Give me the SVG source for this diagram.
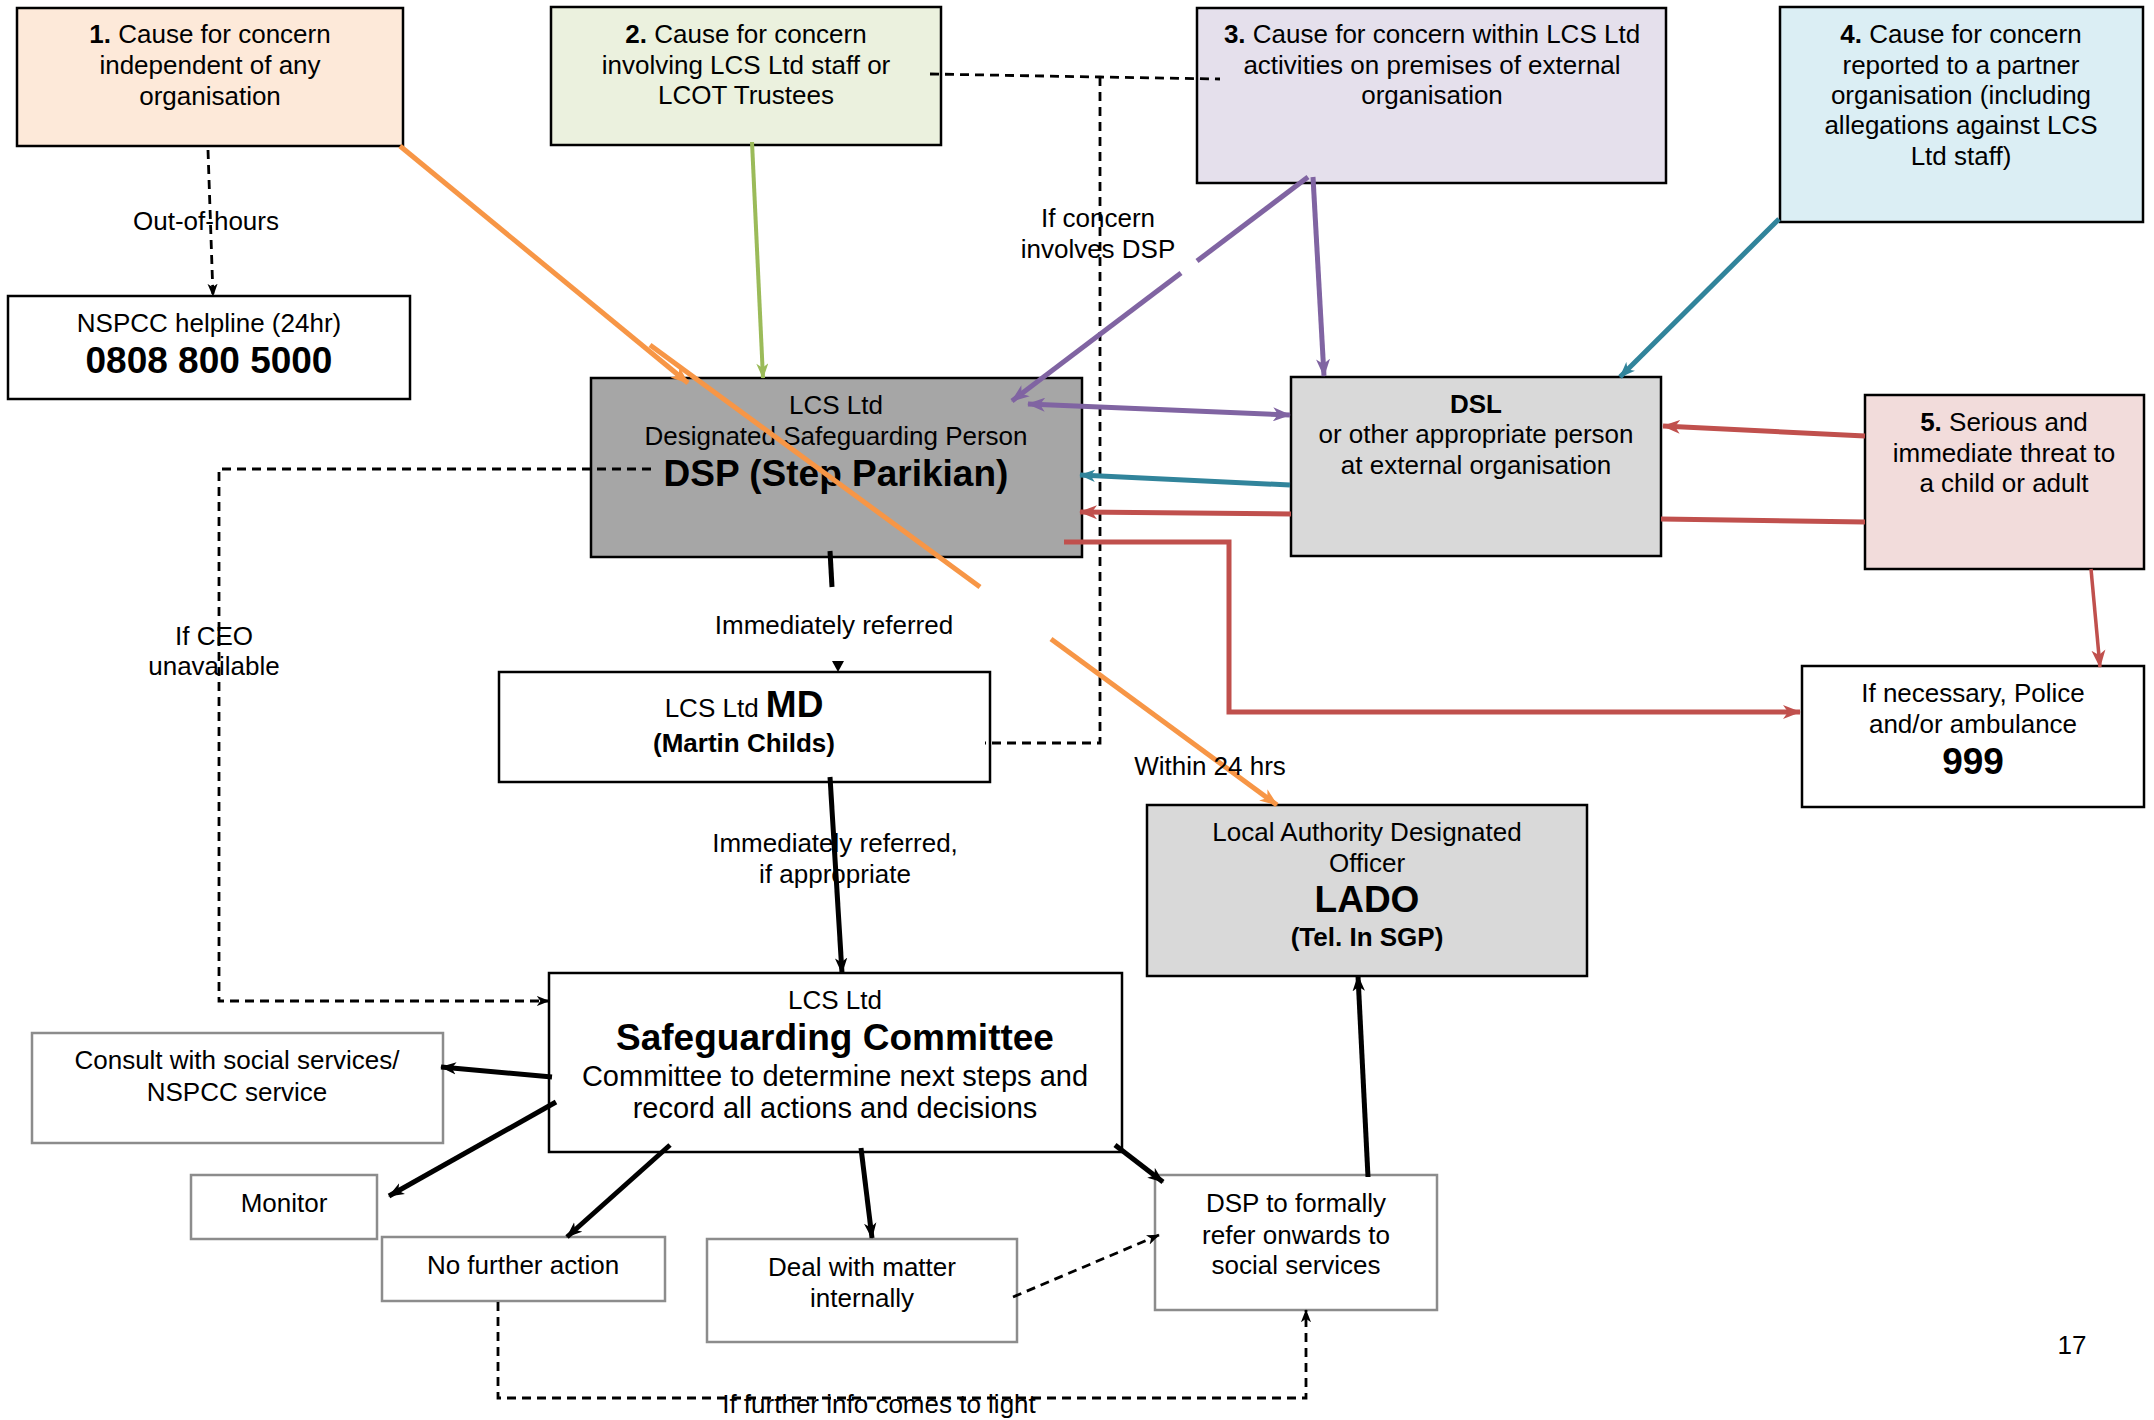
<svg xmlns="http://www.w3.org/2000/svg" width="2154" height="1420" viewBox="0 0 2154 1420">
<style>
text{font-family:"Liberation Sans",Arial,sans-serif;font-size:26px;fill:#000;text-anchor:middle}
.b{font-weight:bold}
.big{font-size:37px;font-weight:bold}
.box{stroke:#000;stroke-width:2.5}
.gbox{fill:#fff;stroke:#8c8c8c;stroke-width:2.5}
.dash{fill:none;stroke:#000;stroke-width:2.8;stroke-dasharray:9 6}
.blk{fill:none;stroke:#000;stroke-width:5}
.org{fill:none;stroke:#F79646;stroke-width:5}
.pur{fill:none;stroke:#8064A2;stroke-width:5}
.tea{fill:none;stroke:#31849B;stroke-width:5}
.red{fill:none;stroke:#C0504D;stroke-width:5}
.grn{fill:none;stroke:#9BBB59;stroke-width:4}
</style>
<defs>
<marker id="mo" viewBox="0 0 18 14" refX="17" refY="7" markerWidth="18" markerHeight="14" orient="auto-start-reverse" markerUnits="userSpaceOnUse"><path d="M0,0 L18,7 L0,14 L5,7 Z" fill="#F79646"/></marker>
<marker id="mp" viewBox="0 0 18 14" refX="17" refY="7" markerWidth="18" markerHeight="14" orient="auto-start-reverse" markerUnits="userSpaceOnUse"><path d="M0,0 L18,7 L0,14 L5,7 Z" fill="#8064A2"/></marker>
<marker id="mt" viewBox="0 0 18 14" refX="17" refY="7" markerWidth="16" markerHeight="13" orient="auto-start-reverse" markerUnits="userSpaceOnUse"><path d="M0,0 L18,7 L0,14 L5,7 Z" fill="#31849B"/></marker>
<marker id="mr" viewBox="0 0 18 14" refX="17" refY="7" markerWidth="18" markerHeight="15" orient="auto-start-reverse" markerUnits="userSpaceOnUse"><path d="M0,0 L18,7 L0,14 L5,7 Z" fill="#C0504D"/></marker>
<marker id="mg" viewBox="0 0 18 14" refX="17" refY="7" markerWidth="16" markerHeight="12" orient="auto" markerUnits="userSpaceOnUse"><path d="M0,0 L18,7 L0,14 L5,7 Z" fill="#9BBB59"/></marker>
<marker id="mk" viewBox="0 0 18 14" refX="17" refY="7" markerWidth="16" markerHeight="13" orient="auto" markerUnits="userSpaceOnUse"><path d="M0,0 L18,7 L0,14 L5,7 Z" fill="#000"/></marker>
<marker id="md" viewBox="0 0 18 14" refX="17" refY="7" markerWidth="13" markerHeight="11" orient="auto" markerUnits="userSpaceOnUse"><path d="M0,0 L18,7 L0,14 L5,7 Z" fill="#000"/></marker>
</defs>
<rect width="2154" height="1420" fill="#fff"/>

<g id="nodes">
<g id="n1"><rect class="box" x="17" y="8" width="386" height="138" fill="#FDE9D9"/>
<text x="210" y="43"><tspan class="b">1.</tspan> Cause for concern</text><text x="210" y="74">independent of any</text><text x="210" y="105">organisation</text></g>
<g id="n2"><rect class="box" x="551" y="7" width="390" height="138" fill="#EBF1DE"/>
<text x="746" y="43"><tspan class="b">2.</tspan> Cause for concern</text><text x="746" y="74">involving LCS Ltd staff or</text><text x="746" y="104">LCOT Trustees</text></g>
<g id="n3"><rect class="box" x="1197" y="8" width="469" height="175" fill="#E5E0EC"/>
<text x="1432" y="43"><tspan class="b">3.</tspan> Cause for concern within LCS Ltd</text><text x="1432" y="74">activities on premises of external</text><text x="1432" y="104">organisation</text></g>
<g id="n4"><rect class="box" x="1780" y="7" width="363" height="215" fill="#DBEEF4"/>
<text x="1961" y="43"><tspan class="b">4.</tspan> Cause for concern</text><text x="1961" y="74">reported to a partner</text><text x="1961" y="104">organisation (including</text><text x="1961" y="134">allegations against LCS</text><text x="1961" y="165">Ltd staff)</text></g>
<g id="nspcc"><rect class="box" x="8" y="296" width="402" height="103" fill="#fff"/>
<text x="209" y="332">NSPCC helpline (24hr)</text><text x="209" y="373" class="big">0808 800 5000</text></g>
<g id="dsp"><rect class="box" x="591" y="378" width="491" height="179" fill="#A6A6A6"/>
<text x="836" y="414">LCS Ltd</text><text x="836" y="445">Designated Safeguarding Person</text><text x="836" y="486" class="big">DSP (Step Parikian)</text></g>
<g id="dsl"><rect class="box" x="1291" y="377" width="370" height="179" fill="#D9D9D9"/>
<text x="1476" y="413" class="b">DSL</text><text x="1476" y="443">or other appropriate person</text><text x="1476" y="474">at external organisation</text></g>
<g id="n5"><rect class="box" x="1865" y="395" width="279" height="174" fill="#F2DCDB"/>
<text x="2004" y="431"><tspan class="b">5.</tspan> Serious and</text><text x="2004" y="462">immediate threat to</text><text x="2004" y="492">a child or adult</text></g>
<g id="police"><rect class="box" x="1802" y="666" width="342" height="141" fill="#fff"/>
<text x="1973" y="702">If necessary, Police</text><text x="1973" y="733">and/or ambulance</text><text x="1973" y="774" class="big">999</text></g>
<g id="md"><rect class="box" x="499" y="672" width="491" height="110" fill="#fff"/>
<text x="744" y="717">LCS Ltd <tspan class="big">MD</tspan></text><text x="744" y="752" class="b">(Martin Childs)</text></g>
<g id="lado"><rect class="box" x="1147" y="805" width="440" height="171" fill="#D9D9D9"/>
<text x="1367" y="841">Local Authority Designated</text><text x="1367" y="872">Officer</text><text x="1367" y="912" class="big">LADO</text><text x="1367" y="946" class="b">(Tel. In SGP)</text></g>
<g id="committee"><rect class="box" x="549" y="973" width="573" height="179" fill="#fff"/>
<text x="835" y="1009">LCS Ltd</text><text x="835" y="1050" class="big">Safeguarding Committee</text><text x="835" y="1086" style="font-size:29px">Committee to determine next steps and</text><text x="835" y="1118" style="font-size:29px">record all actions  and decisions</text></g>
<g id="consult"><rect class="gbox" x="32" y="1033" width="411" height="110"/>
<text x="237" y="1069">Consult with social services/</text><text x="237" y="1101">NSPCC service</text></g>
<g id="monitor"><rect class="gbox" x="191" y="1175" width="186" height="64"/>
<text x="284" y="1212">Monitor</text></g>
<g id="nfa"><rect class="gbox" x="382" y="1237" width="283" height="64"/>
<text x="523" y="1274">No further action</text></g>
<g id="deal"><rect class="gbox" x="707" y="1239" width="310" height="103"/>
<text x="862" y="1276">Deal with matter</text><text x="862" y="1307">internally</text></g>
<g id="refer"><rect class="gbox" x="1155" y="1175" width="282" height="135"/>
<text x="1296" y="1212">DSP to formally</text><text x="1296" y="1244">refer onwards to</text><text x="1296" y="1274">social services</text></g>
</g>

<g id="connectors">
<path class="dash" d="M208,150 L213,296" marker-end="url(#md)"/>
<path class="dash" d="M930,74 L1100,77 L1220,79 M1100,77 V743 H985"/>
<path class="dash" d="M651,469 H219 V1001 H549" marker-end="url(#md)"/>
<path class="dash" d="M1013,1297 L1159,1235" marker-end="url(#md)"/>
<path class="dash" d="M498,1302 V1398 H1306 V1310" marker-end="url(#md)"/>

<path class="grn" d="M752,142 L763,378" marker-end="url(#mg)"/>
<path class="org" d="M400,146 L688,383" marker-end="url(#mo)"/>
<path class="org" d="M650,345 L980,587"/>
<path class="org" d="M1051,639 L1277,805" marker-end="url(#mo)"/>

<path class="pur" d="M1308,177 L1197,261"/>
<path class="pur" d="M1181,273 L1012,401" marker-end="url(#mp)"/>
<path class="pur" d="M1313,177 L1324,376" marker-end="url(#mp)"/>
<path class="pur" d="M1028,404 L1290,415" marker-start="url(#mp)" marker-end="url(#mp)"/>

<path class="tea" d="M1779,219 L1620,377" marker-end="url(#mt)"/>
<path class="tea" d="M1290,485 L1080,475" marker-end="url(#mt)"/>

<path class="red" d="M1064,542 H1229 V712 H1800" marker-end="url(#mr)"/>
<path class="red" d="M1865,436 L1663,426" marker-end="url(#mr)"/>
<path class="red" d="M1865,522 L1661,519"/>
<path class="red" d="M1291,514 L1080,512" marker-end="url(#mr)"/>
<path class="red" d="M2091,569 L2100,667" style="stroke-width:3.5" marker-end="url(#mr)"/>

<path class="blk" d="M830,551 L832,587"/>
<polygon points="832,661 844,661 838,672" fill="#000"/>
<path class="blk" d="M830,777 L842,973" marker-end="url(#mk)"/>
<path class="blk" d="M552,1077 L441,1067" marker-end="url(#mk)"/>
<path class="blk" d="M556,1102 L389,1196" marker-end="url(#mk)"/>
<path class="blk" d="M670,1145 L567,1237" marker-end="url(#mk)"/>
<path class="blk" d="M861,1148 L872,1238" marker-end="url(#mk)"/>
<path class="blk" d="M1115,1145 L1163,1182" marker-end="url(#mk)"/>
<path class="blk" d="M1368,1177 L1358,976" marker-end="url(#mk)"/>
</g>

<g id="labels">
<text x="206" y="230">Out-of-hours</text>
<text x="1098" y="227">If concern</text><text x="1098" y="258">involves DSP</text>
<text x="834" y="634">Immediately referred</text>
<text x="214" y="645">If CEO</text><text x="214" y="675">unavailable</text>
<text x="1210" y="775">Within 24 hrs</text>
<text x="835" y="852">Immediately referred,</text><text x="835" y="883">if appropriate</text>
<text x="879" y="1413">If further info comes to light</text>
<text x="2072" y="1354">17</text>
</g>
</svg>
